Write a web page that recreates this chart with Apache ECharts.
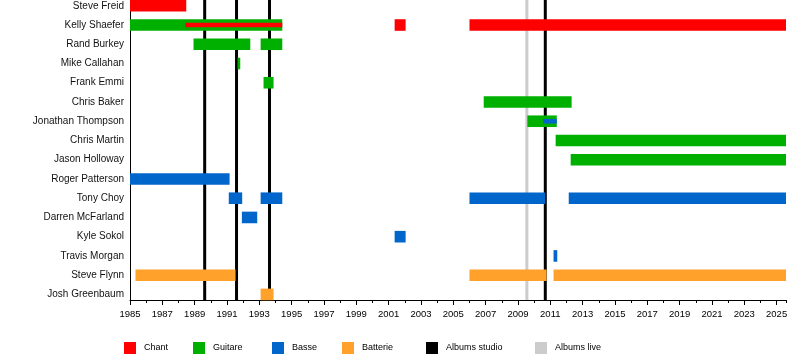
<!DOCTYPE html>
<html>
<head>
<meta charset="utf-8">
<script src="https://cdn.jsdelivr.net/npm/echarts@6/dist/echarts.min.js"></script>
<style>
html,body{margin:0;padding:0;background:#fff;}
#chart{width:800px;height:360px;}
</style>
</head>
<body>
<div id="chart"></div>
<script>
// ---- data ----
const NOW = 2025.58;
const members = ['Steve Freid','Kelly Shaefer','Rand Burkey','Mike Callahan','Frank Emmi','Chris Baker',
  'Jonathan Thompson','Chris Martin','Jason Holloway','Roger Patterson','Tony Choy','Darren McFarland',
  'Kyle Sokol','Travis Morgan','Steve Flynn','Josh Greenbaum'];
// [member, start, end]
const chant = [['Steve Freid',1985,1988.48],['Kelly Shaefer',2001.37,2002.05],['Kelly Shaefer',2006.0,NOW]];
const chantSecondary = [['Kelly Shaefer',1988.43,1994.42]];
const guitare = [['Kelly Shaefer',1985,1994.42],['Rand Burkey',1988.93,1992.44],['Rand Burkey',1993.08,1994.42],
  ['Mike Callahan',1991.65,1991.82],['Frank Emmi',1993.26,1993.88],['Chris Baker',2006.88,2012.32],
  ['Jonathan Thompson',2009.58,2011.4],['Chris Martin',2011.33,NOW],['Jason Holloway',2012.26,NOW]];
const basse = [['Roger Patterson',1985,1991.16],['Tony Choy',1991.11,1991.94],['Tony Choy',1993.08,1994.42],
  ['Tony Choy',2006.0,2010.69],['Tony Choy',2012.14,NOW],['Darren McFarland',1991.92,1992.87],
  ['Kyle Sokol',2001.37,2002.05],['Travis Morgan',2011.2,2011.43]];
const basseSecondary = [['Jonathan Thompson',2010.54,2011.4]];
const batterie = [['Steve Flynn',1985.34,1991.53],['Steve Flynn',2006.0,2010.77],['Steve Flynn',2011.2,NOW],
  ['Josh Greenbaum',1993.08,1993.88]];
const albumsStudio = [1989.62,1991.59,1993.63,2010.69];
const albumsLive = [2009.55];
const yearLabels = [];
for (let y = 1985; y <= 2025; y += 2) yearLabels.push(y);

// ---- chart ----
const FONT = "'Liberation Sans', Arial, sans-serif";
const COLORS = {Chant:'#ff0000', Guitare:'#00b000', Basse:'#0066cc', Batterie:'#ffa12b',
  'Albums studio':'#000000', 'Albums live':'#cccccc'};
const toRows = arr => arr.map(d => [members.indexOf(d[0]), d[1], d[2]]);

function barSeries(name, arr, h, z) {
  return {
    type:'custom', name: name, z: z, clip:false,
    itemStyle:{color: COLORS[name]},
    encode:{x:[1,2], y:0},
    data: toRows(arr),
    renderItem: function(params, api){
      const s = api.coord([api.value(1), api.value(0)]);
      const e = api.coord([api.value(2), api.value(0)]);
      return {type:'rect', shape:{x:s[0], y:s[1]-h/2, width:e[0]-s[0], height:h},
        style:{fill: COLORS[name]}};
    }
  };
}
function lineSeries(name, arr) {
  return {
    type:'custom', name:name, z:1, clip:false,
    itemStyle:{color: COLORS[name]},
    encode:{x:0},
    data: arr.map(v => [v]),
    renderItem: function(params, api){
      const p = api.coord([api.value(0), 0]);
      const cs = params.coordSys;
      return {type:'line', shape:{x1:p[0], y1:cs.y, x2:p[0], y2:cs.y+cs.height},
        style:{stroke: COLORS[name], lineWidth:3}};
    }
  };
}

const legendPos = [['Chant',124],['Guitare',193],['Basse',272],['Batterie',342],['Albums studio',426],['Albums live',535]];

const option = {
  animation:false,
  backgroundColor:'#ffffff',
  textStyle:{fontFamily:FONT},
  grid:{left:130, right:14, top:0, height:300},
  legend: legendPos.map(([n, x]) => ({
    data:[{name:n, icon:'rect'}], left:x, top:342, padding:0,
    itemWidth:12, itemHeight:12, selectedMode:false,
    textStyle:{fontFamily:FONT, fontSize:9, color:'#000', padding:[0,0,0,3]}
  })),
  xAxis:[{
    type:'value', min:1985, max:NOW, interval:1, position:'bottom', offset:0,
    axisLine:{show:true, onZero:false, lineStyle:{color:'#000', width:1}},
    axisTick:{show:true, length:3, lineStyle:{color:'#000'}},
    axisLabel:{show:false}, splitLine:{show:false}
  },{
    type:'value', min:1985, max:NOW, position:'bottom', offset:0,
    axisLine:{show:false, onZero:false},
    axisTick:{show:true, length:5, customValues:yearLabels, lineStyle:{color:'#000'}},
    axisLabel:{show:true, customValues:yearLabels, margin:9.5, fontSize:9.5, color:'#000', fontFamily:FONT,
      formatter: v => String(v)},
    splitLine:{show:false}
  }],
  yAxis:{
    type:'value', inverse:true, min:-0.3, max:15.29,
    axisLine:{show:true, lineStyle:{color:'#000', width:1}},
    axisTick:{show:false}, splitLine:{show:false},
    axisLabel:{show:true, customValues:members.map((m,i)=>i), margin:6, fontSize:10, color:'#111', fontFamily:FONT,
      formatter: v => members[Math.round(v)] || ''}
  },
  series:[
    lineSeries('Albums studio', albumsStudio),
    lineSeries('Albums live', albumsLive),
    barSeries('Chant', chant, 11.6, 3),
    barSeries('Guitare', guitare, 11.6, 3),
    barSeries('Basse', basse, 11.6, 3),
    barSeries('Batterie', batterie, 11.6, 3),
    barSeries('Chant', chantSecondary, 4.6, 5),
    barSeries('Basse', basseSecondary, 4.6, 5)
  ]
};
const chart = echarts.init(document.getElementById('chart'), null, {renderer:'canvas'});
chart.setOption(option);
</script>
</body>
</html>
